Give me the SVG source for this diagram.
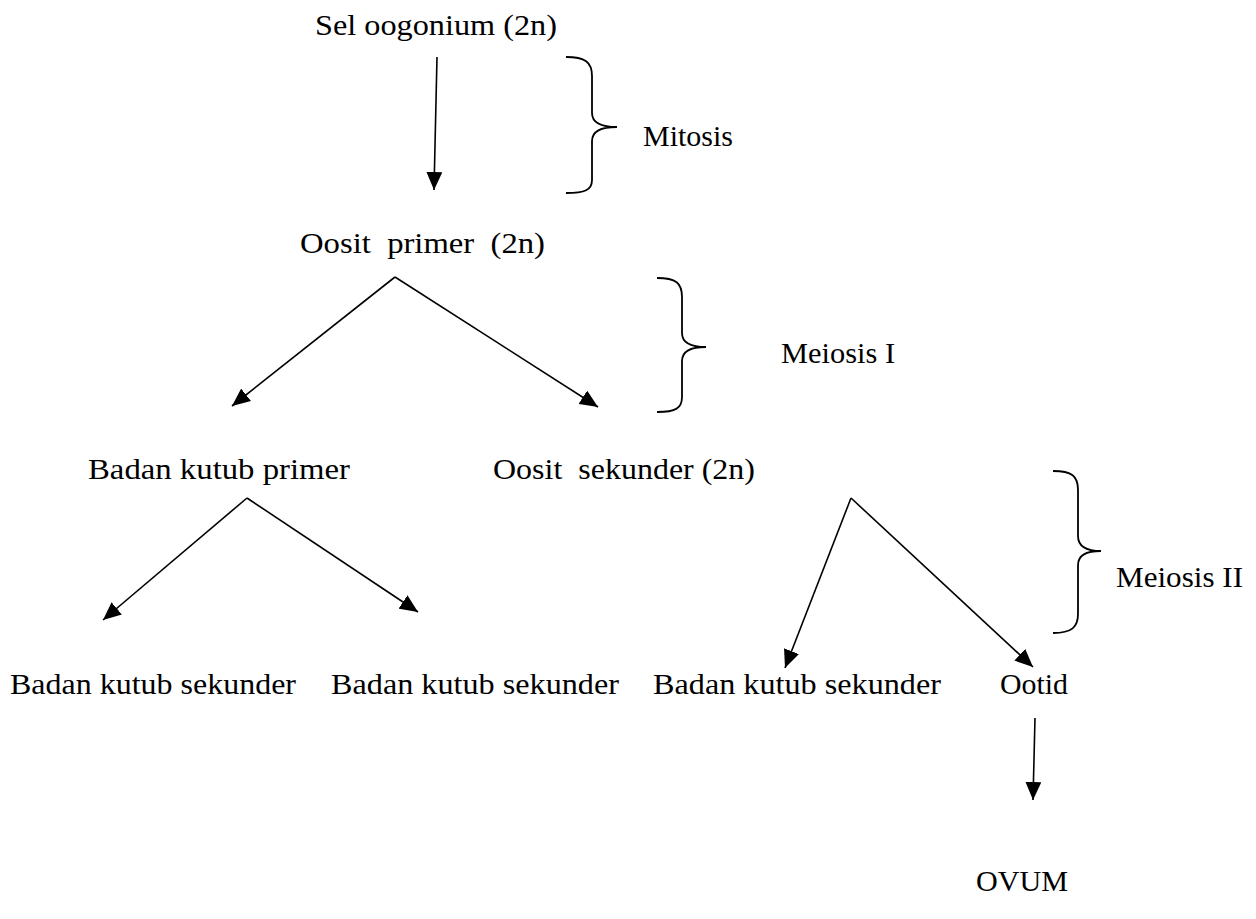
<svg xmlns="http://www.w3.org/2000/svg" width="1256" height="919" viewBox="0 0 1256 919">
<style>
.t{font-family:"Liberation Serif","Times New Roman",serif;font-size:29px;fill:#000}
.c{stroke:#000;stroke-width:1.6;fill:none}
.b{stroke:#000;stroke-width:1.8;fill:none}
</style>
<defs>
<marker id="ah" markerUnits="userSpaceOnUse" markerWidth="18" markerHeight="16" refX="18" refY="8" orient="auto" viewBox="0 0 18 16">
<path d="M0,0 L18,8 L0,16 z" fill="#000"/>
</marker>
</defs>
<rect width="1256" height="919" fill="#fff"/>
<g id="n-oogonium"><text class="t" x="315" y="35" textLength="242" lengthAdjust="spacingAndGlyphs">Sel oogonium (2n)</text></g>
<g id="n-oosit-primer"><text class="t" x="300" y="253" textLength="245" lengthAdjust="spacingAndGlyphs" xml:space="preserve">Oosit  primer  (2n)</text></g>
<g id="n-bkp"><text class="t" x="88" y="479" textLength="262" lengthAdjust="spacingAndGlyphs">Badan kutub primer</text></g>
<g id="n-oosit-sekunder"><text class="t" x="493" y="479" textLength="262" lengthAdjust="spacingAndGlyphs" xml:space="preserve">Oosit  sekunder (2n)</text></g>
<g id="n-bks1"><text class="t" x="10" y="694" textLength="286" lengthAdjust="spacingAndGlyphs">Badan kutub sekunder</text></g>
<g id="n-bks2"><text class="t" x="331" y="694" textLength="288" lengthAdjust="spacingAndGlyphs">Badan kutub sekunder</text></g>
<g id="n-bks3"><text class="t" x="653" y="694" textLength="288" lengthAdjust="spacingAndGlyphs">Badan kutub sekunder</text></g>
<g id="n-ootid"><text class="t" x="1000" y="694" textLength="68" lengthAdjust="spacingAndGlyphs">Ootid</text></g>
<g id="n-ovum"><text class="t" x="976" y="891" textLength="92" lengthAdjust="spacingAndGlyphs">OVUM</text></g>
<g id="l-mitosis">
<path class="b" d="M566,57 C585,57 592,62 592,76 L592,113 C592,122 600,127 617,127 C600,127 592,132 592,141 L592,180 C592,190 585,193 566,193"/>
<text class="t" x="643" y="146" textLength="90" lengthAdjust="spacingAndGlyphs">Mitosis</text>
</g>
<g id="l-meiosis1">
<path class="b" d="M657,278 C676,278 682,283 682,297 L682,333 C682,342 690,347 706,347 C690,347 682,352 682,361 L682,397 C682,408 676,412 657,412"/>
<text class="t" x="781" y="363" textLength="114" lengthAdjust="spacingAndGlyphs">Meiosis I</text>
</g>
<g id="l-meiosis2">
<path class="b" d="M1053,471 C1072,471 1078,476 1078,490 L1078,536 C1078,545 1085,551 1101,551 C1085,551 1078,556 1078,565 L1078,614 C1078,627 1072,633 1053,633"/>
<text class="t" x="1116" y="587" textLength="127" lengthAdjust="spacingAndGlyphs">Meiosis II</text>
</g>
<g id="connectors">
<path class="c" d="M437,57 L434,190" marker-end="url(#ah)"/>
<path class="c" d="M395,277 L232,406" marker-end="url(#ah)"/>
<path class="c" d="M395,277 L598,407" marker-end="url(#ah)"/>
<path class="c" d="M247,498 L103,620" marker-end="url(#ah)"/>
<path class="c" d="M247,498 L418,612" marker-end="url(#ah)"/>
<path class="c" d="M851,498 L785,668" marker-end="url(#ah)"/>
<path class="c" d="M851,498 L1033,667" marker-end="url(#ah)"/>
<path class="c" d="M1035,718 L1033,800" marker-end="url(#ah)"/>
</g>
</svg>
